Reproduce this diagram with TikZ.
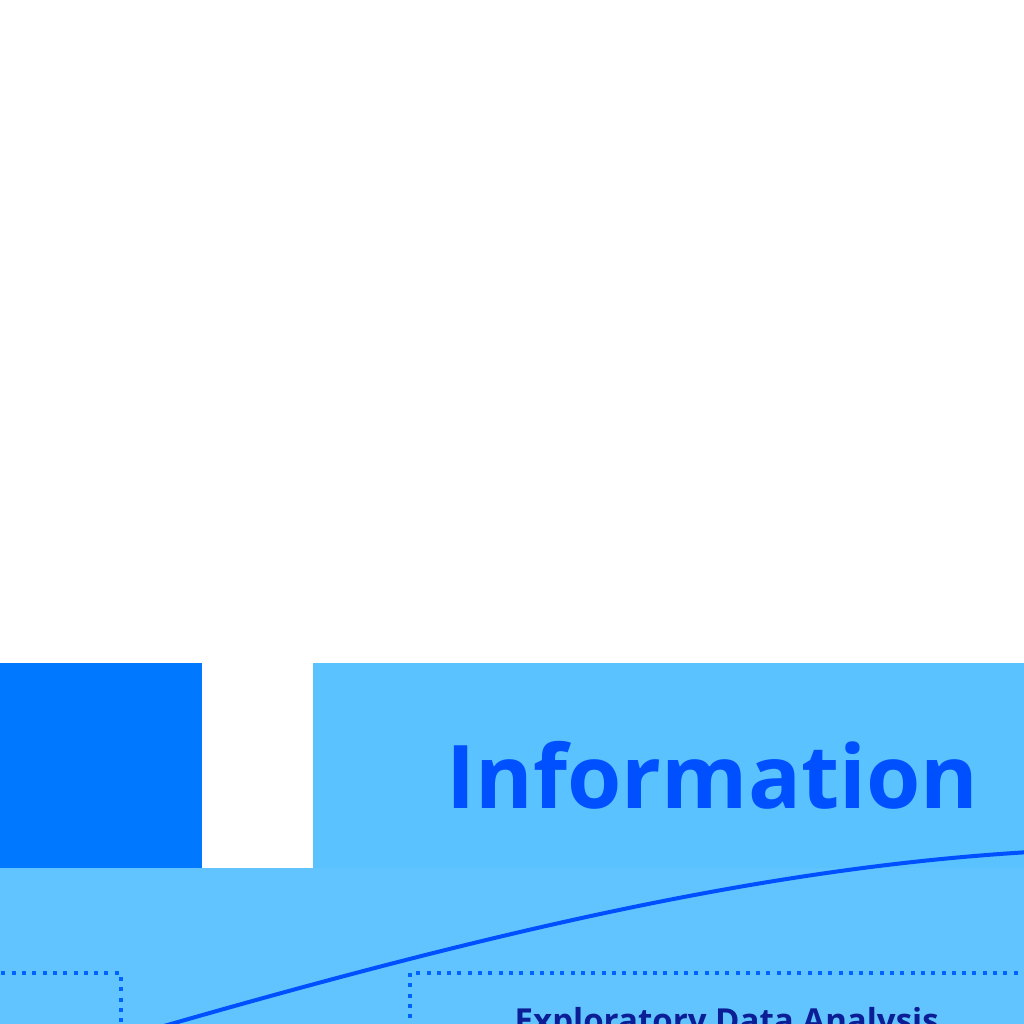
\documentclass[tikz,border=0pt]{standalone}
\usepackage{fontspec}
\setmainfont{Open Sans}
\definecolor{deepblue}{HTML}{0078FF}
\definecolor{panelblue}{HTML}{5AC2FF}
\definecolor{bandblue}{HTML}{62C4FF}
\definecolor{curveblue}{HTML}{0050FF}
\definecolor{dotblue}{HTML}{0062FF}
\definecolor{navy}{HTML}{0C1E96}
\tikzset{
  block/.style={fill=#1, draw=none, inner sep=0pt},
  dotbox/.style={draw=dotblue, line width=0.4mm, dash pattern=on 0.4mm off 0.63mm},
  title/.style={text=curveblue, font=\bfseries\fontsize{25}{30}\selectfont, inner sep=0pt},
  label/.style={text=navy, font=\bfseries\fontsize{9.4}{11}\selectfont, inner sep=0pt}
}
\begin{document}
\begin{tikzpicture}[x=0.1mm,y=-0.1mm]
      \useasboundingbox (0,0) rectangle (1024,1024);
      \clip (0,0) rectangle (1024,1024);
      \fill[white] (0,0) rectangle (1024,1024);
      % top row
      \fill[bandblue] (0,868) rectangle (1024,1100);
      \fill[deepblue] (0,663) rectangle (202,868);
      \fill[panelblue] (313,663) rectangle (1024,868);
      \node[title, anchor=base west] (info) at (446,808) {Information};
      % curve
      \coordinate (c0) at (150,1030);
      \coordinate (c1) at (1030,852);
      \draw[curveblue, line width=0.4mm]
        (c0) .. controls (480,935) and (760,868) .. (c1);
      % dotted boxes
      \draw[dotbox] (-50,973) -- (121,973) -- (121,1100);
      \draw[dotbox] (1100,973) -- (410,973) -- (410,1100);
      \node[label, anchor=north west] (eda) at (514,1007) {Exploratory Data Analysis};
    \end{tikzpicture}
\end{document}
